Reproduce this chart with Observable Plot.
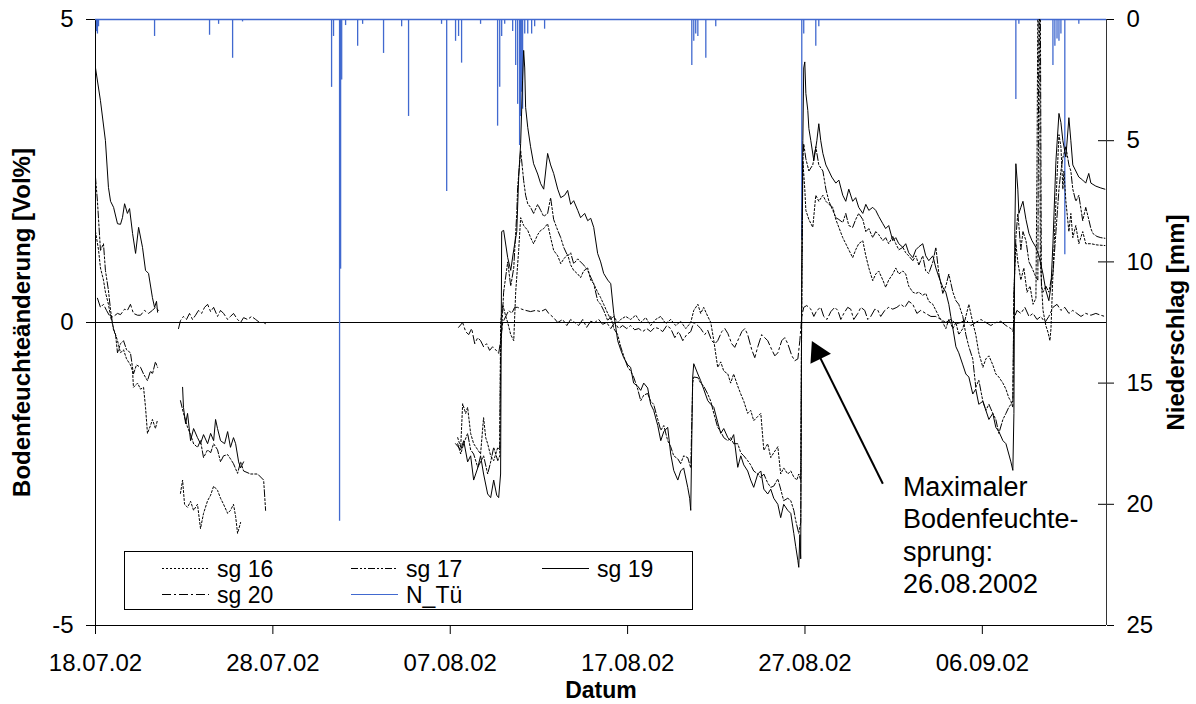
<!DOCTYPE html>
<html><head><meta charset="utf-8">
<script src="https://cdn.jsdelivr.net/npm/d3@7"></script>
<script src="https://cdn.jsdelivr.net/npm/@observablehq/plot@0.6"></script>
<style>
html,body{margin:0;padding:0;background:#fff;}
#chart{position:relative;width:1196px;height:704px;}
</style></head><body><div id="chart"></div>
<script>
// ---------- data ----------
// time = days since 18.07.2002 00:00, value = Bodenfeuchteänderung [Vol%]; null = data gap
const startDate = "2002-07-18";
const endDays = 57;
const xTickDates = ["2002-07-18","2002-07-28","2002-08-07","2002-08-17","2002-08-27","2002-09-06"];
const leftTicks = [-5, 0, 5];
const rightTicks = [0, 5, 10, 15, 20, 25];
const seriesNames = ["sg 16", "sg 17", "sg 19", "sg 20"];
const precipName = "N_Tü";
const yTitleLeft = "Bodenfeuchteänderung [Vol%]";
const yTitleRight = "Niederschlag [mm]";
const xTitle = "Datum";
const noteText = "Maximaler\nBodenfeuchte-\nsprung:\n26.08.2002";
const noteAt = [45.52, -2.48];
const arrowFrom = [44.39, -2.66];
const arrowTo = [40.55, -0.40];
const arrowHead = [40.72, -0.50];

const sg19 = [
[0.00,4.2],[0.28,3.66],[0.56,3.0],[0.73,2.23],[0.85,2.0],[1.02,1.9],[1.24,1.63],[1.41,1.62],[1.52,1.73],[1.64,1.96],[1.80,1.8],[1.92,1.88],[2.09,1.47],[2.26,1.14],[2.43,1.57],[2.65,1.24],[2.82,0.86],[2.99,0.81],[3.21,0.41],[3.33,0.25],[3.44,0.35],[3.50,0.17],[3.6,null],
[4.91,-1.07],[4.96,-1.4],[5.08,-1.67],[5.19,-1.5],[5.36,-1.95],[5.53,-1.75],[5.75,-1.9],[5.92,-2.0],[6.09,-1.85],[6.32,-2.0],[6.49,-1.83],[6.66,-1.95],[6.77,-1.6],[6.88,-1.75],[7.05,-1.95],[7.28,-2.0],[7.45,-1.8],[7.61,-2.06],[7.78,-1.9],[7.90,-2.0],[8.07,-2.3],[8.18,-2.4],[8.35,-2.3],[8.4,null],
[20.30,-2.0],[20.59,-2.1],[20.76,-1.95],[20.98,-2.3],[21.15,-2.2],[21.32,-2.6],[21.55,-2.4],[21.71,-2.2],[21.88,-2.5],[22.11,-2.83],[22.28,-2.89],[22.45,-2.6],[22.62,-2.85],[22.73,-2.89],[22.84,-2.5],
[22.90,1.5],[23.01,1.52],[23.24,1.07],[23.41,0.86],[23.58,1.2],[23.75,1.5],[23.86,2.4],[23.97,2.95],[24.08,4.0],[24.14,4.49],[24.20,4.2],[24.25,3.55],[24.37,3.22],[24.53,2.9],[24.70,2.62],[24.93,2.45],[25.10,2.29],[25.27,2.2],[25.49,2.79],[25.66,2.6],[25.83,2.46],[26.06,2.2],[26.23,2.06],[26.45,2.1],[26.62,2.18],[26.79,1.95],[26.96,2.01],[27.19,1.85],[27.35,1.73],[27.58,1.8],[27.75,1.68],[27.92,1.72],[28.09,1.57],[28.31,1.14],[28.48,1.0],[28.65,0.81],[28.88,0.7],[29.05,0.64],[29.22,0.15],
[29.44,-0.3],[29.61,-0.45],[29.78,-0.58],[30.01,-0.7],[30.17,-0.74],[30.34,-1.0],[30.57,-1.05],[30.74,-1.12],[30.91,-1.0],[31.13,-1.08],[31.30,-1.35],[31.47,-1.45],[31.70,-1.7],[31.87,-1.95],[32.04,-1.8],[32.26,-1.73],[32.43,-2.17],[32.60,-2.44],[32.83,-2.6],[32.99,-2.45],[33.16,-2.4],[33.39,-2.72],[33.50,-2.9],[33.56,-3.1],
[33.67,-0.9],[33.73,-0.68],[33.96,-0.85],[34.12,-0.96],[34.29,-1.1],[34.52,-1.29],[34.69,-1.35],[34.86,-1.4],[35.08,-1.65],[35.25,-1.83],[35.42,-1.75],[35.65,-1.9],[35.81,-1.95],[35.98,-1.85],[36.21,-2.39],[36.38,-2.2],[36.55,-2.35],[36.77,-2.45],[36.94,-2.6],[37.11,-2.72],[37.34,-2.5],[37.51,-2.45],[37.68,-2.75],[37.90,-2.83],[38.07,-2.75],[38.24,-2.9],[38.47,-3.0],[38.63,-3.22],[38.80,-3.0],[39.03,-3.1],[39.20,-3.15],[39.37,-3.48],[39.48,-3.7],[39.60,-3.93],[39.65,-4.04],[39.71,-3.5],[39.76,-3.9],
[39.82,1.0],[39.88,3.0],[39.93,4.2],[39.99,4.3],[40.05,3.78],[40.16,3.5],[40.22,3.2],[40.33,3.0],[40.50,2.67],[40.67,3.0],[40.78,3.28],[40.89,3.0],[41.01,2.79],[41.18,2.6],[41.35,2.5],[41.51,2.4],[41.74,2.3],[41.91,2.35],[42.13,2.1],[42.30,2.0],[42.47,2.2],[42.69,2.0],[42.86,2.06],[43.03,1.9],[43.26,1.8],[43.43,1.95],[43.60,1.85],[43.82,1.9],[43.99,1.85],[44.16,1.75],[44.39,1.63],[44.55,1.55],[44.72,1.6],[44.95,1.35],[45.12,1.4],[45.29,1.3],[45.52,1.24],[45.68,1.3],[45.85,1.15],[46.08,1.07],[46.25,1.2],[46.42,1.25],[46.64,1.3],[46.81,1.1],[46.98,1.02],[47.21,1.1],[47.38,0.9],[47.55,0.75],[47.77,0.58],[47.94,0.5],[48.11,0.3],[48.22,0.1],
[48.34,-0.1],[48.51,-0.4],[48.67,-0.5],[48.90,-0.7],[49.07,-0.85],[49.24,-0.9],[49.46,-1.18],[49.63,-1.1],[49.80,-1.35],[50.03,-1.3],[50.20,-1.45],[50.37,-1.6],[50.59,-1.5],[50.76,-1.73],[50.93,-1.8],[51.16,-1.95],[51.33,-2.0],[51.49,-2.17],[51.61,-2.3],[51.72,-2.44],[51.78,-1.5],
[51.83,1.5],[51.89,2.62],[52.00,2.2],[52.06,1.8],[52.17,1.9],[52.29,2.0],[52.46,1.7],[52.63,1.47],[52.80,1.35],[53.02,1.24],[53.19,1.1],[53.42,0.8],[53.58,0.53],[53.75,0.36],[53.87,0.6],[53.98,1.3],[54.15,2.67],[54.32,3.45],[54.43,3.3],[54.54,3.0],[54.71,2.73],[54.88,3.38],[54.99,3.0],[55.10,2.6],[55.27,2.5],[55.44,2.4],[55.66,2.35],[55.83,2.3],[56.00,2.46],[56.12,2.3],[56.40,2.25],[56.68,2.22],[56.91,2.2]
];

const sg17 = [
[0.00,2.4],[0.11,2.0],[0.28,1.19],[0.45,1.3],[0.56,0.86],[0.73,0.53],[0.85,0.2],[1.02,-0.13],[1.13,-0.2],[1.24,-0.5],[1.41,-0.35],[1.58,-0.3],[1.75,-0.45],[1.97,-0.5],[2.14,-0.85],[2.31,-0.7],[2.54,-0.74],[2.71,-0.85],[2.93,-0.96],[3.10,-0.8],[3.21,-0.85],[3.38,-0.65],[3.50,-0.74],[3.6,null],
[4.79,-1.29],[4.96,-1.5],[5.19,-1.73],[5.36,-1.85],[5.53,-2.0],[5.75,-2.06],[5.92,-1.95],[6.09,-2.23],[6.32,-2.1],[6.49,-2.15],[6.66,-2.0],[6.88,-2.1],[7.05,-2.3],[7.22,-2.2],[7.45,-2.18],[7.61,-2.25],[7.78,-2.33],[8.01,-2.49],[8.18,-2.3],[8.35,-2.45],[8.74,-2.5],[9.14,-2.5],[9.48,-2.6],[9.59,-3.1],[9.7,null],
[20.42,-2.0],[20.59,-2.17],[20.76,-2.0],[20.98,-1.83],[21.15,-2.1],[21.32,-2.17],[21.55,-2.39],[21.71,-2.3],[21.88,-2.2],[22.11,-2.5],[22.28,-2.3],[22.45,-2.06],[22.68,-2.28],[22.79,-2.2],
[22.84,-0.5],[23.01,0.5],[23.24,1.0],[23.41,0.6],[23.58,0.9],[23.75,1.8],[23.80,2.23],[23.97,2.84],[24.14,2.34],[24.25,2.1],[24.37,1.96],[24.53,1.9],[24.70,1.8],[24.93,1.95],[25.10,1.85],[25.27,1.75],[25.49,1.8],[25.66,2.06],[25.83,1.7],[26.06,1.52],[26.23,1.4],[26.40,1.24],[26.62,1.1],[26.79,1.15],[26.96,0.97],[27.19,1.05],[27.35,1.0],[27.52,0.95],[27.75,0.86],[27.92,0.75],[28.09,0.64],[28.31,0.36],[28.48,0.3],[28.65,0.2],[28.88,0.03],[29.05,0.1],
[29.22,-0.1],[29.44,-0.2],[29.61,-0.4],[29.78,-0.55],[30.01,-0.74],[30.17,-0.8],[30.34,-0.9],[30.57,-1.1],[30.74,-1.29],[30.91,-1.2],[31.13,-1.17],[31.30,-1.3],[31.47,-1.35],[31.70,-1.6],[31.87,-1.78],[32.04,-1.7],[32.26,-1.95],[32.43,-2.05],[32.60,-2.2],[32.83,-2.25],[32.99,-2.33],[33.16,-2.2],[33.39,-2.23],[33.56,-2.4],
[33.67,-1.0],[33.73,-0.9],[33.96,-0.91],[34.12,-1.0],[34.29,-1.05],[34.52,-1.18],[34.69,-1.3],[34.86,-1.5],[35.08,-1.73],[35.25,-1.8],[35.42,-1.9],[35.65,-1.95],[35.81,-1.9],[35.98,-2.0],[36.21,-2.0],[36.38,-2.15],[36.55,-2.2],[36.77,-2.28],[36.94,-2.35],[37.11,-2.45],[37.34,-2.5],[37.51,-2.56],[37.68,-2.5],[37.90,-2.65],[38.07,-2.72],[38.24,-2.7],[38.47,-2.58],[38.63,-2.75],[38.80,-2.94],[39.03,-2.9],[39.20,-2.94],[39.37,-3.1],[39.48,-3.27],[39.65,-3.48],[39.76,-3.3],
[39.82,0.5],[39.88,2.67],[39.93,2.95],[40.05,2.7],[40.22,2.5],[40.44,2.6],[40.61,2.9],[40.78,2.6],[41.01,2.5],[41.18,2.2],[41.35,2.0],[41.57,1.85],[41.74,1.73],[41.91,1.7],[42.13,1.65],[42.30,1.8],[42.47,1.6],[42.69,1.57],[42.86,1.7],[43.03,1.8],[43.26,1.7],[43.43,1.5],[43.60,1.55],[43.82,1.4],[43.99,1.5],[44.16,1.45],[44.39,1.35],[44.55,1.4],[44.72,1.3],[44.95,1.42],[45.12,1.3],[45.29,1.2],[45.52,1.24],[45.68,1.15],[45.85,1.1],[46.08,1.02],[46.25,1.1],[46.42,0.95],[46.64,1.1],[46.81,0.85],[46.98,0.81],[47.21,1.0],[47.38,1.24],[47.55,0.8],[47.77,0.48],[47.94,0.6],[48.11,0.8],[48.34,0.5],[48.51,0.36],[48.67,0.3],[48.90,0.1],
[49.07,-0.2],[49.24,-0.4],[49.46,-0.6],[49.63,-1.07],[49.80,-0.95],[50.03,-1.3],[50.20,-1.45],[50.37,-1.35],[50.59,-1.5],[50.76,-1.6],[50.93,-1.83],[51.16,-1.6],[51.33,-1.5],[51.49,-1.4],[51.61,-1.35],[51.72,-1.29],
[51.78,0.5],[51.89,1.4],[52.00,1.8],[52.06,1.6],[52.17,1.2],[52.29,1.5],[52.46,1.35],[52.63,1.0],[52.80,0.9],[53.02,0.75],[53.13,0.7],[53.19,5.3],[53.27,5.3],[53.33,0.6],[53.42,0.5],[53.58,0.6],[53.75,0.5],[53.87,0.69],[53.98,0.8],[54.15,1.5],[54.32,2.2],[54.43,2.5],[54.54,2.72],[54.71,2.9],[54.88,2.6],[54.99,2.5],[55.10,2.2],[55.27,2.0],[55.44,2.1],[55.66,1.68],[55.83,1.9],[56.00,1.7],[56.12,1.55],[56.23,1.47],[56.46,1.42],[56.68,1.4],[56.91,1.39]
];

const sg16 = [
[0.00,1.5],[0.17,1.2],[0.28,0.9],[0.45,0.7],[0.56,0.5],[0.73,0.3],[0.85,0.1],[1.02,-0.1],[1.24,-0.3],[1.41,-0.5],[1.58,-0.45],[1.75,-0.6],[1.97,-0.7],[2.09,-0.8],[2.14,-1.07],[2.37,-1.0],[2.54,-1.1],[2.71,-1.07],[2.82,-1.4],[2.93,-1.83],[3.10,-1.7],[3.21,-1.6],[3.38,-1.75],[3.50,-1.6],[3.6,null],
[4.79,-2.82],[4.91,-2.6],[5.02,-3.0],[5.19,-3.05],[5.36,-2.95],[5.53,-3.1],[5.75,-3.0],[5.92,-3.4],[6.09,-3.15],[6.32,-2.94],[6.49,-2.85],[6.66,-2.7],[6.88,-2.77],[7.05,-2.9],[7.22,-3.0],[7.45,-3.15],[7.61,-3.1],[7.78,-3.0],[7.90,-3.2],[8.01,-3.48],[8.18,-3.3],[8.3,null],
[20.42,-1.9],[20.59,-2.06],[20.70,-1.34],[20.87,-1.5],[20.98,-1.4],[21.15,-1.83],[21.32,-2.0],[21.55,-2.1],[21.71,-2.17],[21.88,-1.57],[22.00,-1.9],[22.11,-2.0],[22.28,-2.2],[22.45,-2.28],[22.68,-2.06],[22.79,-2.1],
[22.84,0.0],[22.96,0.3],[23.13,0.1],[23.24,0.0],[23.41,-0.2],[23.58,-0.3],[23.69,0.5],[23.86,1.2],[23.97,1.73],[24.14,1.6],[24.37,1.52],[24.53,1.4],[24.70,1.3],[24.93,1.45],[25.10,1.52],[25.27,1.55],[25.49,1.63],[25.66,1.4],[25.83,1.19],[26.06,1.1],[26.23,0.97],[26.40,1.05],[26.62,1.12],[26.79,0.95],[26.96,0.86],[27.19,0.8],[27.35,0.74],[27.52,0.85],[27.75,0.9],[27.92,0.7],[28.09,0.64],[28.31,0.5],[28.48,0.41],[28.65,0.3],[28.88,0.15],[29.05,0.05],
[29.22,0.1],[29.44,0.0],[29.61,0.05],[29.89,0.1],[30.17,0.05],[30.46,0.12],[30.74,0.0],[31.02,0.08],[31.30,-0.05],[31.58,0.05],[31.87,0.1],[32.15,-0.02],[32.43,0.05],[32.71,-0.05],[32.99,0.02],[33.28,-0.1],[33.56,0.0],[33.73,0.2],[33.96,0.3],[34.12,0.15],[34.29,0.25],[34.52,0.1],[34.69,0.0],
[34.86,-0.3],[35.08,-0.74],[35.25,-0.65],[35.42,-0.8],[35.65,-0.85],[35.81,-1.0],[35.98,-0.85],[36.21,-1.05],[36.38,-1.18],[36.55,-1.3],[36.77,-1.5],[36.94,-1.45],[37.11,-1.62],[37.34,-1.55],[37.51,-1.5],[37.68,-2.11],[37.90,-2.0],[38.07,-2.23],[38.24,-2.15],[38.47,-2.05],[38.63,-2.5],[38.80,-2.4],[39.03,-2.5],[39.20,-2.45],[39.37,-2.55],[39.54,-2.6],[39.65,-2.5],[39.76,-2.6],
[39.82,0.5],[39.88,2.67],[39.99,2.2],[40.05,1.85],[40.22,1.7],[40.44,1.57],[40.61,2.1],[40.78,2.0],[41.01,2.1],[41.18,2.0],[41.35,1.95],[41.57,1.9],[41.74,1.7],[41.91,1.57],[42.13,1.4],[42.30,1.3],[42.47,1.2],[42.69,1.07],[42.86,1.2],[43.03,1.3],[43.26,1.35],[43.43,1.1],[43.60,0.9],[43.82,0.69],[43.99,0.8],[44.16,0.85],[44.39,0.7],[44.55,0.58],[44.72,0.7],[44.95,0.8],[45.12,0.9],[45.29,0.8],[45.52,0.85],[45.68,0.8],[45.85,0.6],[46.08,0.5],[46.25,0.48],[46.42,0.5],[46.64,0.45],[46.81,0.48],[46.98,0.35],[47.21,0.3],[47.38,0.2],[47.55,0.1],[47.77,0.0],[47.94,-0.1],[48.11,0.05],[48.34,-0.1],[48.51,0.0],[48.67,-0.2],[48.90,-0.1],[49.07,0.1],[49.24,0.3],[49.46,0.0],[49.63,-0.2],[49.80,-0.5],[50.03,-0.74],[50.20,-0.6],[50.37,-0.55],[50.59,-0.7],[50.76,-0.85],[50.93,-0.9],[51.16,-1.0],[51.33,-1.1],[51.49,-1.24],[51.61,-1.3],[51.72,-1.4],
[51.78,0.5],[51.89,1.3],[52.00,1.0],[52.17,0.7],[52.34,0.9],[52.52,0.5],[52.69,0.6],[52.86,0.3],[53.02,0.4],[53.08,2.5],[53.13,5.3],[53.22,5.3],[53.27,1.0],[53.42,0.2],[53.58,-0.05],[53.70,-0.16],[53.81,-0.3],[53.87,-0.1],[53.98,0.8],[54.15,2.0],[54.32,3.1],[54.43,2.9],[54.54,2.2],[54.60,2.5],[54.71,2.0],[54.88,1.5],[54.99,1.8],[55.10,1.4],[55.27,1.6],[55.44,1.3],[55.66,1.5],[55.83,1.3],[56.12,1.3],[56.46,1.28],[56.91,1.27]
];

const sg20 = [
[0.11,0.4],[0.28,0.25],[0.45,0.3],[0.62,0.2],[0.85,0.08],[1.02,0.1],[1.24,0.15],[1.41,0.13],[1.64,0.22],[1.80,0.2],[1.97,0.3],[2.14,0.15],[2.37,0.12],[2.54,0.12],[2.76,0.2],[2.99,0.15],[3.21,0.2],[3.38,0.25],[3.55,0.2],[3.65,null],
[4.68,-0.1],[4.79,0.03],[4.96,0.1],[5.13,0.05],[5.30,0.15],[5.47,0.05],[5.64,0.12],[5.81,0.2],[5.98,0.15],[6.15,0.25],[6.32,0.3],[6.49,0.18],[6.66,0.25],[6.88,0.1],[7.05,0.2],[7.22,0.15],[7.45,0.05],[7.61,0.1],[7.78,0.15],[8.01,0.05],[8.18,0.0],[8.35,0.08],[8.57,0.05],[8.80,0.1],[9.03,0.05],[9.25,0.0],[9.48,0.0],[9.59,-0.02],[9.7,null],
[20.47,-0.08],[20.70,0.0],[20.87,-0.15],[21.04,-0.2],[21.21,-0.1],[21.38,-0.35],[21.55,-0.25],[21.71,-0.3],[21.88,-0.4],[22.05,-0.35],[22.22,-0.46],[22.39,-0.4],[22.56,-0.45],[22.73,-0.51],[22.84,-0.3],[22.96,0.0],[23.13,0.1],[23.30,0.2],[23.47,0.15],[23.63,0.25],[23.80,0.25],[24.03,0.22],[24.25,0.2],[24.53,0.18],[24.82,0.2],[25.10,0.18],[25.38,0.22],[25.55,0.15],[25.83,0.08],[26.06,0.0],[26.34,0.05],[26.57,-0.05],[26.79,0.05],[27.02,0.0],[27.24,-0.05],[27.47,0.05],[27.69,-0.08],[27.92,0.02],[28.15,0.0],[28.37,0.05],[28.59,-0.03],[28.82,0.0],[29.05,-0.1],[29.27,0.0],[29.50,-0.1],[29.72,-0.05],[29.95,-0.1],[30.17,-0.05],[30.40,-0.12],[30.63,-0.1],[30.85,-0.15],[31.08,-0.1],[31.30,-0.15],[31.53,-0.08],[31.75,-0.1],[31.98,-0.15],[32.21,-0.05],[32.43,-0.1],[32.66,-0.25],[32.88,-0.15],[33.11,-0.3],[33.33,-0.2],[33.56,-0.15],[33.73,0.0],[33.96,-0.05],[34.12,-0.1],[34.35,-0.2],[34.52,-0.13],[34.74,-0.3],[34.92,-0.35],[35.08,-0.3],[35.31,-0.15],[35.48,-0.1],[35.65,-0.18],[35.87,-0.35],[36.04,-0.41],[36.21,-0.3],[36.44,-0.15],[36.61,-0.1],[36.77,-0.2],[37.00,-0.45],[37.17,-0.58],[37.34,-0.4],[37.56,-0.2],[37.73,-0.25],[37.90,-0.3],[38.13,-0.45],[38.30,-0.55],[38.47,-0.5],[38.69,-0.3],[38.86,-0.25],[39.03,-0.35],[39.26,-0.55],[39.43,-0.63],[39.60,-0.6],[39.71,-0.3],
[39.82,0.1],[39.93,0.25],[40.10,0.28],[40.33,0.22],[40.50,0.1],[40.67,0.2],[40.89,0.25],[41.06,0.1],[41.24,0.05],[41.46,0.18],[41.68,0.25],[41.85,0.2],[42.02,0.05],[42.19,0.15],[42.41,0.25],[42.58,0.22],[42.75,0.05],[42.98,0.15],[43.15,0.25],[43.37,0.2],[43.54,0.05],[43.71,0.1],[43.94,0.22],[44.11,0.2],[44.27,0.1],[44.50,0.2],[44.72,0.25],[44.95,0.22],[45.18,0.25],[45.40,0.3],[45.63,0.25],[45.85,0.35],[46.08,0.3],[46.31,0.15],[46.53,0.2],[46.81,0.15],[47.10,0.1],[47.38,0.1],[47.66,0.05],[47.94,0.0],[48.22,0.05],[48.51,-0.02],[48.79,0.0],[49.07,0.05],[49.35,-0.05],[49.63,0.0],[49.92,0.05],[50.20,0.0],[50.48,-0.05],[50.76,0.0],[51.04,0.02],[51.33,-0.05],[51.61,-0.1],[51.72,-0.15],[51.83,0.1],[51.95,0.2],[52.17,0.15],[52.40,0.25],[52.63,0.1],[52.86,0.15],[53.08,0.05],[53.30,0.1],[53.53,0.0],[53.75,0.1],[53.98,0.25],[54.21,0.3],[54.43,0.2],[54.65,0.25],[54.88,0.15],[55.10,0.2],[55.33,0.15],[55.56,0.1],[55.83,0.15],[56.12,0.12],[56.40,0.15],[56.68,0.12],[56.91,0.1]
];

// N_Tü: [days, Niederschlag mm]
const nTue = [
[0.06,0.5],[0.11,0.6],[0.17,0.3],[3.33,0.7],[6.43,0.65],[6.94,0.2],[7.73,1.6],[8.29,0.1],
[13.31,2.8],[13.42,0.7],[13.76,20.7],[13.82,10.3],[13.88,2.5],[14.10,0.25],[14.78,1.1],[15.06,0.2],[16.24,1.4],[17.26,0.3],[17.65,4.0],
[19.51,0.2],[19.80,7.1],[20.30,0.9],[20.47,0.7],[20.64,1.8],[21.71,0.2],[22.67,4.4],[22.79,2.8],[22.90,0.7],[23.07,0.2],
[23.52,0.5],[23.69,1.9],[23.80,3.5],[23.91,5.2],[23.97,4.0],[24.03,3.0],[24.08,3.7],[24.20,0.6],[24.37,0.6],[24.59,0.6],[24.76,0.3],[25.32,0.4],
[33.62,1.9],[33.73,0.9],[33.84,0.6],[33.96,0.7],[34.41,1.6],[34.97,0.3],
[39.82,9.1],[39.93,0.6],[40.61,1.1],[40.78,0.3],
[51.89,3.3],[52.06,0.2],[53.98,1.9],[54.09,1.1],[54.21,0.8],[54.32,0.9],[54.43,0.6],[54.65,9.7],[55.44,0.2]
];

// ---------- helpers ----------
const t0 = new Date(startDate + "T00:00:00Z").getTime();
const toDate = d => new Date(t0 + d * 86400000);
const mmToY = mm => 5 - mm * 10 / 25;   // right axis (0..25 mm, downward) onto left scale
const yToMm = y => String(Math.round((5 - y) * 2.5));
const rows = arr => arr.map(([d, v]) => ({date: toDate(d), value: v}));

const black = "#000";
const blue = "#4169cf";
const dash = {"sg 16": "2,2", "sg 17": "7,2,2,2,2,2", "sg 19": null, "sg 20": "9,3,2,3"};
const seriesData = {"sg 16": sg16, "sg 17": sg17, "sg 19": sg19, "sg 20": sg20};
const font = "Liberation Sans, Arial, Helvetica, sans-serif";

const xDomain = [toDate(0), toDate(endDays)];
const precipRows = nTue.map(([d, mm]) => ({date: toDate(d), mm}));

const marks = [
  Plot.ruleY([0], {stroke: black, strokeWidth: 1}),
  Plot.ruleY([-5], {stroke: black, strokeWidth: 1}),
  Plot.ruleX([xDomain[0]], {stroke: black, strokeWidth: 1}),
  Plot.ruleX([xDomain[1]], {stroke: "#333", strokeWidth: 1}),
  Plot.ruleY(rightTicks.map(mmToY), {x1: xDomain[1], x2: xDomain[1], insetLeft: -8, stroke: black}),
  Plot.ruleY([mmToY(0)], {stroke: blue, strokeWidth: 1.5}),
  Plot.ruleX(precipRows, {x: "date", y1: mmToY(0), y2: d => mmToY(d.mm), stroke: blue, strokeWidth: 1.3}),
];
for (const name of seriesNames) {
  marks.push(Plot.line(rows(seriesData[name]), {
    x: "date", y: "value", stroke: black, strokeWidth: 1,
    strokeDasharray: dash[name], clip: true
  }));
}
marks.push(
  Plot.axisX({ticks: xTickDates.map(s => new Date(s + "T00:00:00Z")), tickFormat: d3.utcFormat("%d.%m.%y"),
    tickSize: 9, tickPadding: 19, label: null, fontSize: 24}),
  Plot.axisY({anchor: "left", ticks: leftTicks, tickFormat: d => String(d), tickSize: 9, tickPadding: 13, label: null, fontSize: 24}),
  Plot.axisY({anchor: "right", ticks: rightTicks.map(mmToY), tickFormat: yToMm, tickSize: 7, tickPadding: 13, label: null, fontSize: 24}),
  Plot.text([yTitleLeft], {text: d => d, frameAnchor: "left", textAnchor: "middle", rotate: -90, dx: -73, fontWeight: "bold", fontSize: 24}),
  Plot.text([yTitleRight], {text: d => d, frameAnchor: "right", textAnchor: "middle", rotate: -90, dx: 70, fontWeight: "bold", fontSize: 24}),
  Plot.text([xTitle], {text: d => d, frameAnchor: "bottom", dy: 72, fontWeight: "bold", fontSize: 23}),
  Plot.link([0], {x1: toDate(arrowFrom[0]), y1: arrowFrom[1], x2: toDate(arrowTo[0]), y2: arrowTo[1], stroke: black, strokeWidth: 2}),
  Plot.dot([0], {x: toDate(arrowHead[0]), y: arrowHead[1], symbol: "triangle", r: 8.5, fill: black, stroke: "none", rotate: -26.4}),
  Plot.text([noteText], {text: d => d, x: toDate(noteAt[0]), y: noteAt[1], textAnchor: "start", lineAnchor: "top", fontSize: 27, lineHeight: 1.2})
);

const chart = Plot.plot({
  width: 1196, height: 704,
  marginLeft: 95, marginRight: 90, marginTop: 19, marginBottom: 79,
  x: {type: "utc", domain: xDomain},
  y: {domain: [-5, 5]},
  style: {fontFamily: font, fontSize: "24px", color: "#000", background: "#fff", overflow: "visible"},
  marks
});
document.getElementById("chart").appendChild(chart);

// ---------- legend (inside plot area, lower left) ----------
const svg = d3.select(chart);
const leg = svg.append("g").attr("font-family", font).attr("font-size", 23).attr("text-anchor", "start");
leg.append("rect").attr("x", 124.5).attr("y", 551.5).attr("width", 568).attr("height", 58)
  .attr("fill", "#fff").attr("stroke", black).attr("stroke-width", 1);
const legendItems = [
  {name: seriesNames[0], color: black, dash: dash["sg 16"], col: 0, row: 0},
  {name: seriesNames[1], color: black, dash: dash["sg 17"], col: 1, row: 0},
  {name: seriesNames[2], color: black, dash: dash["sg 19"], col: 2, row: 0},
  {name: seriesNames[3], color: black, dash: dash["sg 20"], col: 0, row: 1},
  {name: precipName, color: blue, dash: null, col: 1, row: 1}
];
const colX = [162, 351, 542], rowY = [568.5, 594.5];
for (const it of legendItems) {
  const x = colX[it.col], y = rowY[it.row];
  leg.append("line").attr("x1", x).attr("x2", x + 47).attr("y1", y).attr("y2", y)
    .attr("stroke", it.color).attr("stroke-width", 1.2).attr("stroke-dasharray", it.dash);
  leg.append("text").attr("x", x + 55).attr("y", y + 8).attr("text-anchor", "start").text(it.name);
}
</script></body></html>
